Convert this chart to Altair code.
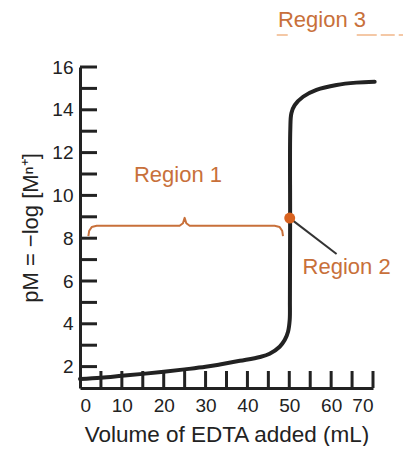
import altair as alt
import pandas as pd

# Titration curve
curve_x = [0, 5, 10, 15, 20, 25, 30, 33.4, 38.2, 43.0, 45.3, 47.7, 48.9, 49.7, 50.1, 50.15, 50.2, 50.24, 50.5, 51.3, 53.3, 56.5, 61.3, 66.0, 70.4]
curve_y = [1.42, 1.48, 1.57, 1.66, 1.76, 1.87, 1.99, 2.1, 2.27, 2.45, 2.6, 2.93, 3.24, 3.63, 4.18, 5.11, 9.0, 13.06, 13.84, 14.22, 14.61, 14.93, 15.16, 15.27, 15.31]

# Region 1 brace
brace_x = [2.0, 2.2, 2.8, 4.0, 23.8, 24.6, 25.0, 25.4, 26.2, 46.5, 47.7, 48.3, 48.5]
brace_y = [8.1, 8.35, 8.52, 8.58, 8.58, 8.7, 8.95, 8.7, 8.58, 8.58, 8.52, 8.35, 8.1]

# Equivalence point and leader line
eq_x = [50.1]
eq_y = [8.94]
leader_x = [50.1, 61.3]
leader_y = [8.94, 7.26]

labels_text = ["Region 1", "Region 2", "Region 3"]
labels_x = [23.4, 63.7, 57.8]
labels_y = [10.95, 6.65, 18.2]

dash_x = [47.0]
dash_x2 = [77.6]
dash_y = [17.5]

x_label_vals = [0, 10, 20, 30, 40, 50, 60, 70]
x_tick_vals = [5, 10, 15, 20, 25, 30, 35, 40, 45, 50, 55, 60, 65, 70]
y_label_vals = [2, 4, 6, 8, 10, 12, 14, 16]
y_tick_vals = [2, 3, 4, 5, 6, 7, 8, 9, 10, 11, 12, 13, 14, 15, 16]

W, H = 293, 321
ORANGE = "#c8703a"
DARK = "#222222"
FONT = "Liberation Sans"

curve_df = pd.DataFrame({"x": curve_x, "y": curve_y, "i": range(len(curve_x))})
brace_df = pd.DataFrame({"x": brace_x, "y": brace_y, "i": range(len(brace_x))})
eq_df = pd.DataFrame({"x": eq_x, "y": eq_y})
leader_df = pd.DataFrame({"x": leader_x, "y": leader_y, "i": range(len(leader_x))})
lab_df = pd.DataFrame({"t": labels_text, "x": labels_x, "y": labels_y})
dash_df = pd.DataFrame({"x": dash_x, "x2": dash_x2, "y": dash_y})
xt_df = pd.DataFrame({"v": x_tick_vals})
yt_df = pd.DataFrame({"v": y_tick_vals})

xscale = alt.Scale(domain=[0, 70], nice=False, zero=False)
yscale = alt.Scale(domain=[1, 16], nice=False, zero=False)

xaxis = alt.Axis(values=x_label_vals, ticks=False, grid=False, domainWidth=3,
                 domainColor=DARK, labelFontSize=19, labelFont=FONT, labelColor=DARK,
                 labelPadding=8, title="Volume of EDTA added (mL)", titleFont=FONT,
                 titleFontSize=22.5, titleFontWeight="normal", titleColor=DARK, titlePadding=8)
yaxis = alt.Axis(values=y_label_vals, ticks=False, grid=False, domainWidth=3,
                 domainColor=DARK, labelFontSize=19, labelFont=FONT, labelColor=DARK,
                 labelPadding=7, title="pM = −log [Mⁿ⁺]", titleFont=FONT,
                 titleFontSize=22, titleFontWeight="normal", titleColor=DARK, titlePadding=9)

base_curve = alt.Chart(curve_df).mark_line(color=DARK, strokeWidth=4, strokeCap="round",
                                           strokeJoin="round", interpolate="catmull-rom").encode(
    x=alt.X("x:Q", scale=xscale, axis=xaxis),
    y=alt.Y("y:Q", scale=yscale, axis=yaxis),
    order=alt.Order("i:Q"),
)

xticks = alt.Chart(xt_df).mark_rule(color=DARK, strokeWidth=3).encode(
    x=alt.X("v:Q", scale=xscale),
    y=alt.value(H),
    y2=alt.value(H - 17),
)
yticks = alt.Chart(yt_df).mark_rule(color=DARK, strokeWidth=3).encode(
    y=alt.Y("v:Q", scale=yscale),
    x=alt.value(0),
    x2=alt.value(17),
)

brace = alt.Chart(brace_df).mark_line(color=ORANGE, strokeWidth=2, strokeJoin="round").encode(
    x=alt.X("x:Q", scale=xscale), y=alt.Y("y:Q", scale=yscale), order=alt.Order("i:Q"),
)
leader = alt.Chart(leader_df).mark_line(color="#333333", strokeWidth=2).encode(
    x=alt.X("x:Q", scale=xscale), y=alt.Y("y:Q", scale=yscale), order=alt.Order("i:Q"),
)
dot = alt.Chart(eq_df).mark_circle(color="#d8621f", opacity=1, size=120).encode(
    x=alt.X("x:Q", scale=xscale), y=alt.Y("y:Q", scale=yscale),
)
texts = alt.Chart(lab_df).mark_text(color=ORANGE, fontSize=22, font=FONT, align="center", baseline="middle").encode(
    x=alt.X("x:Q", scale=xscale), y=alt.Y("y:Q", scale=yscale), text="t:N",
)
dash = alt.Chart(dash_df).mark_rule(color="#f0b080", strokeWidth=2, strokeDash=[11, 69, 20, 4, 14, 4, 6, 100], opacity=0.7).encode(
    x=alt.X("x:Q", scale=xscale), x2="x2:Q", y=alt.Y("y:Q", scale=yscale),
)

chart = alt.layer(xticks, yticks, brace, leader, base_curve, dot, texts, dash).properties(
    width=W, height=H,
    autosize=alt.AutoSizeParams(type="none"),
    padding={"left": 72, "top": 59, "right": 30, "bottom": 58},
    background="white",
).configure_view(strokeWidth=0)

chart.save("out.html", embed_options={"renderer": "svg", "actions": False})
